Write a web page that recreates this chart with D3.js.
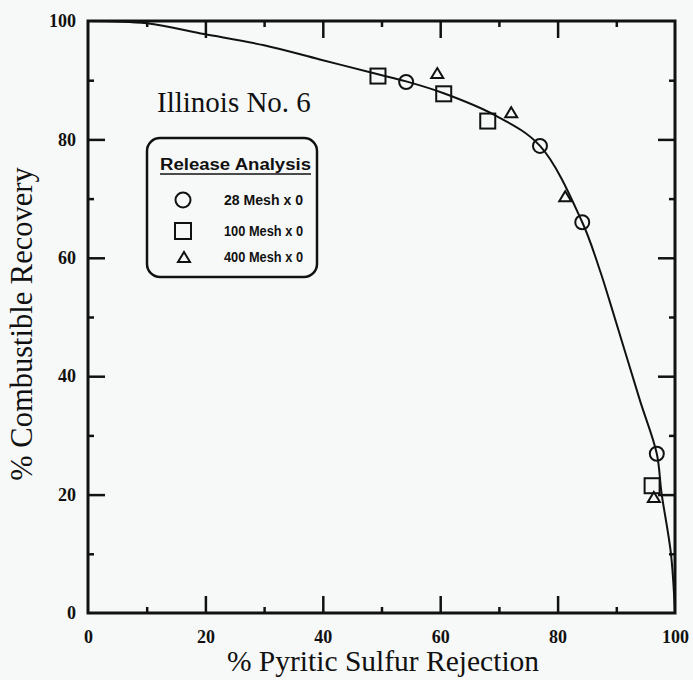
<!DOCTYPE html>
<html>
<head>
<meta charset="utf-8">
<script src="https://cdn.jsdelivr.net/npm/d3@7"></script>
<style>
  html, body { margin: 0; padding: 0; background: #f7f9f8; }
  svg { display: block; }
</style>
</head>
<body>
<svg id="chart" width="693" height="680"></svg>
<script>
// Release analysis curve and flotation results, Illinois No. 6 coal
const curveRejection = [0, 10, 19.8, 30, 39.5, 49.4, 54.2, 60.6, 69.3, 77, 84.2, 87.2, 88.8, 94, 96.9, 97.7, 99.3, 100];
const curveRecovery  = [100, 99.6, 97.8, 95.9, 93.5, 91.0, 89.8, 87.8, 84.1, 78.9, 66.0, 57.9, 52.9, 36.0, 26.9, 20.3, 10.1, 0];

const mesh28Rejection  = [54.2, 77.0, 84.2, 96.9];
const mesh28Recovery   = [89.7, 78.9, 66.0, 26.9];
const mesh100Rejection = [49.4, 60.6, 68.1, 96.1];
const mesh100Recovery  = [90.7, 87.7, 83.1, 21.5];
const mesh400Rejection = [59.5, 72.1, 81.3, 96.4];
const mesh400Recovery  = [91.2, 84.6, 70.4, 19.6];

const xTickValues = [0, 20, 40, 60, 80, 100];
const yTickValues = [0, 20, 40, 60, 80, 100];
const minorTickValues = [10, 30, 50, 70, 90];

const legendLabels = ["28 Mesh x 0", "100 Mesh x 0", "400 Mesh x 0"];

const svg = d3.select("#chart");
const serif = "'Liberation Serif', 'Times New Roman', 'DejaVu Serif', serif";
const sans = "'Liberation Sans', Arial, sans-serif";

const x = d3.scaleLinear().domain([0, 100]).range([88, 675]);
const y = d3.scaleLinear().domain([0, 100]).range([613, 21]);

const ink = "#111";
const majorLen = 17, minorLen = 6;

// Frame
svg.append("rect")
  .attr("x", x(0)).attr("y", y(100))
  .attr("width", x(100) - x(0)).attr("height", y(0) - y(100))
  .attr("fill", "none").attr("stroke", ink).attr("stroke-width", 3);

// Inward ticks on all four sides
function sideTicks(axisGen, transform) {
  const g = svg.append("g").attr("transform", transform).call(axisGen);
  g.select(".domain").remove();
  g.selectAll("text").remove();
  g.selectAll("line").attr("stroke", ink).attr("stroke-width", 2.5);
  return g;
}
const majorInner = xTickValues.slice(1, -1);
const majorInnerY = yTickValues.slice(1, -1);

sideTicks(d3.axisTop(x).tickValues(majorInner).tickSize(majorLen).tickFormat(""), `translate(0,${y(0)})`);
sideTicks(d3.axisTop(x).tickValues(minorTickValues).tickSize(minorLen).tickFormat(""), `translate(0,${y(0)})`);
sideTicks(d3.axisBottom(x).tickValues(majorInner).tickSize(majorLen).tickFormat(""), `translate(0,${y(100)})`);
sideTicks(d3.axisBottom(x).tickValues(minorTickValues).tickSize(minorLen).tickFormat(""), `translate(0,${y(100)})`);
sideTicks(d3.axisRight(y).tickValues(majorInnerY).tickSize(majorLen).tickFormat(""), `translate(${x(0)},0)`);
sideTicks(d3.axisRight(y).tickValues(minorTickValues).tickSize(minorLen).tickFormat(""), `translate(${x(0)},0)`);
sideTicks(d3.axisLeft(y).tickValues(majorInnerY).tickSize(majorLen).tickFormat(""), `translate(${x(100)},0)`);
sideTicks(d3.axisLeft(y).tickValues(minorTickValues).tickSize(minorLen).tickFormat(""), `translate(${x(100)},0)`);

// Tick labels
const xLabels = svg.append("g").attr("transform", `translate(0,${y(0)})`)
  .call(d3.axisBottom(x).tickValues(xTickValues).tickSize(0).tickPadding(17));
xLabels.select(".domain").remove();
xLabels.selectAll("text")
  .attr("font-family", serif).attr("font-weight", "bold").attr("font-size", 18)
  .attr("fill", ink);

const yLabels = svg.append("g").attr("transform", `translate(${x(0)},0)`)
  .call(d3.axisLeft(y).tickValues(yTickValues).tickSize(0).tickPadding(12));
yLabels.select(".domain").remove();
yLabels.selectAll("text")
  .attr("font-family", serif).attr("font-weight", "bold").attr("font-size", 18)
  .attr("fill", ink);

// Axis titles
svg.append("text")
  .attr("x", 383).attr("y", 671)
  .attr("text-anchor", "middle")
  .attr("font-family", serif).attr("font-size", 29.5).attr("fill", ink)
  .text("% Pyritic Sulfur Rejection");

svg.append("text")
  .attr("transform", "translate(32,324) rotate(-90)")
  .attr("text-anchor", "middle")
  .attr("font-family", serif).attr("font-size", 30.5).attr("fill", ink)
  .text("% Combustible Recovery");

// Fitted release curve
const curvePts = curveRejection.map((r, i) => [r, curveRecovery[i]]);
svg.append("path")
  .datum(curvePts)
  .attr("fill", "none").attr("stroke", ink).attr("stroke-width", 2)
  .attr("d", d3.line().x(d => x(d[0])).y(d => y(d[1])).curve(d3.curveCatmullRom.alpha(0.5)));

// Markers
const markerStroke = 2;
function circles(xs, ys) {
  svg.append("g").selectAll("circle").data(xs.map((v, i) => [v, ys[i]])).join("circle")
    .attr("cx", d => x(d[0])).attr("cy", d => y(d[1])).attr("r", 7)
    .attr("fill", "none").attr("stroke", ink).attr("stroke-width", markerStroke);
}
function squares(xs, ys) {
  const s = 15;
  svg.append("g").selectAll("rect").data(xs.map((v, i) => [v, ys[i]])).join("rect")
    .attr("x", d => x(d[0]) - s / 2).attr("y", d => y(d[1]) - s / 2)
    .attr("width", s).attr("height", s)
    .attr("fill", "none").attr("stroke", ink).attr("stroke-width", markerStroke);
}
function triPath(cx, cy, w, h) {
  return `M${cx},${cy - h / 2}L${cx + w / 2},${cy + h / 2}L${cx - w / 2},${cy + h / 2}Z`;
}
function triangles(xs, ys) {
  svg.append("g").selectAll("path").data(xs.map((v, i) => [v, ys[i]])).join("path")
    .attr("d", d => triPath(x(d[0]), y(d[1]), 12, 10))
    .attr("fill", "none").attr("stroke", ink).attr("stroke-width", markerStroke)
    .attr("stroke-linejoin", "miter");
}
squares(mesh100Rejection, mesh100Recovery);
circles(mesh28Rejection, mesh28Recovery);
triangles(mesh400Rejection, mesh400Recovery);

// Sample title
svg.append("text")
  .attr("x", 157).attr("y", 112)
  .attr("font-family", serif).attr("font-size", 29).attr("fill", ink)
  .text("Illinois No. 6");

// Legend box
const lg = svg.append("g");
lg.append("rect")
  .attr("x", 147).attr("y", 138).attr("width", 170).attr("height", 139)
  .attr("rx", 13).attr("ry", 13)
  .attr("fill", "none").attr("stroke", ink).attr("stroke-width", 2.5);
lg.append("text")
  .attr("x", 160).attr("y", 170)
  .attr("font-family", sans).attr("font-weight", "bold").attr("font-size", 16)
  .attr("textLength", 151).attr("lengthAdjust", "spacingAndGlyphs")
  .attr("fill", ink)
  .text("Release Analysis");
lg.append("line")
  .attr("x1", 160).attr("x2", 311).attr("y1", 174).attr("y2", 174)
  .attr("stroke", ink).attr("stroke-width", 1.6);

const legendY = [200, 231, 257];
lg.append("circle").attr("cx", 183).attr("cy", legendY[0]).attr("r", 7.5)
  .attr("fill", "none").attr("stroke", ink).attr("stroke-width", 2);
lg.append("rect").attr("x", 175).attr("y", legendY[1] - 8).attr("width", 16).attr("height", 16)
  .attr("fill", "none").attr("stroke", ink).attr("stroke-width", 2);
lg.append("path").attr("d", triPath(184, legendY[2], 12, 10))
  .attr("fill", "none").attr("stroke", ink).attr("stroke-width", 2);

lg.selectAll("text.item").data(legendLabels).join("text")
  .attr("class", "item")
  .attr("x", 224).attr("y", (d, i) => legendY[i] + 5)
  .attr("font-family", sans).attr("font-weight", "bold").attr("font-size", 14)
  .attr("textLength", 79).attr("lengthAdjust", "spacingAndGlyphs")
  .attr("fill", ink)
  .text(d => d);
</script>
</body>
</html>
